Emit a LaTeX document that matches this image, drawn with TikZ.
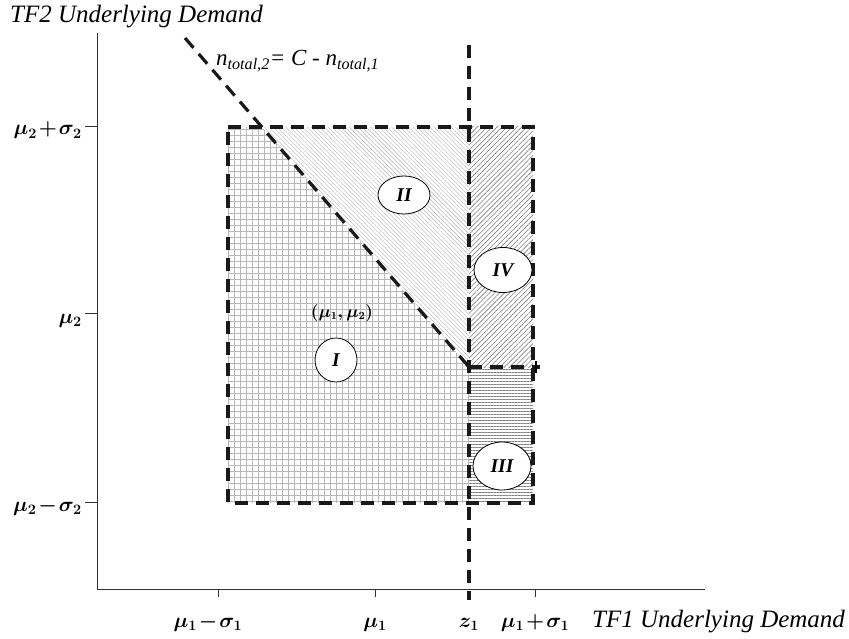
\documentclass[tikz,border=0pt]{standalone}
\usepackage{fontspec}
\setmainfont{Liberation Serif}
\usetikzlibrary{patterns.meta,shapes.geometric}
\newcommand\tightbin{\medmuskip=1.5mu\relax}
\tikzset{
  axisline/.style={draw=black!80, line width=1pt},
  tickmark/.style={draw=black!80, line width=0.8pt},
  bigdash/.style={draw=black!90, line width=3.2pt, dash pattern=on 13pt off 8pt},
  regionlabel/.style={ellipse, draw, line width=0.8pt, fill=white, inner sep=0pt,
    font=\fontsize{19.5}{22}\selectfont\bfseries\itshape},
  ticklabel/.style={inner sep=0pt, font=\fontsize{22}{26}\selectfont\boldmath},
  axistitle/.style={inner sep=0pt, font=\fontsize{25}{28}\selectfont\itshape},
}
\begin{document}
\begin{tikzpicture}[x=1pt,y=-1pt]
\useasboundingbox (0,0) rectangle (849,639);
% coordinates
\coordinate (O) at (97,589);
\coordinate (Ytop) at (97,33);
\coordinate (Xend) at (705,589);
\coordinate (TL) at (228,127);
\coordinate (TR) at (533,127);
\coordinate (BR) at (533,503);
\coordinate (BL) at (228,503);
\coordinate (Dtop) at (185,38);
\coordinate (Dbox) at (262,127);
\coordinate (Dend) at (469,367);
\coordinate (Ztop) at (469,45);
\coordinate (Zbot) at (469,600);
\coordinate (Ztb) at (469,127);
\coordinate (Zbb) at (469,503);
\coordinate (Mr) at (533,367);
\coordinate (Mrx) at (540,367);
% region fills
\fill[pattern={Hatch[distance=6pt,line width=0.6pt]}, pattern color=black!28]
  (TL) -- (Dbox) -- (Dend) -- (Zbb) -- (BL) -- cycle;
\fill[pattern={Lines[angle=-45,distance=3pt,line width=0.4pt]}, pattern color=black!30]
  (Dbox) -- (Ztb) -- (Dend) -- cycle;
\fill[pattern={Lines[angle=45,distance=3.5pt,line width=0.6pt]}, pattern color=black!50]
  (Ztb) -- (TR) -- (Mr) -- (Dend) -- cycle;
\fill[pattern={Lines[angle=0,distance=3pt,line width=0.6pt]}, pattern color=black!50]
  (Dend) -- (Mr) -- (BR) -- (Zbb) -- cycle;
% axes
\draw[axisline] (Ytop) -- (O) -- (Xend);
% y ticks
\foreach \n/\y in {a/126,b/313,c/502} {
  \coordinate (yt\n) at (97,\y);
  \draw[tickmark] (yt\n) -- ++(-12,0);
}
% x ticks
\foreach \n/\x in {a/218,b/375,d/535} {
  \coordinate (xt\n) at (\x,589);
  \draw[tickmark] (xt\n) -- ++(0,8);
}
% dashed lines
\draw[bigdash] (TL) -- (TR) -- (BR) -- (BL) -- cycle;
\draw[bigdash] (Dtop) -- (Dend);
\draw[bigdash] (Ztop) -- (Zbot);
\draw[bigdash] (Dend) -- (Mrx);
\draw[line width=1.2pt] (536,361) -- (536,373);
% labels
\node[axistitle, anchor=west] (ytitle) at (10,17) {TF2 Underlying Demand};
\node[axistitle, anchor=base west] (xtitle) at (592,627) {TF1 Underlying Demand};
\node[anchor=base west, inner sep=0pt, font=\fontsize{23}{26}\selectfont\itshape] (eq) at (216,66)
  {n\textsubscript{total,2}= C - n\textsubscript{total,1}};
\node[ticklabel, anchor=base east] (ly1) at (82,135) {$\tightbin\mu_2+\sigma_2$};
\node[ticklabel, anchor=base east] (ly2) at (82,323) {$\mu_2$};
\node[ticklabel, anchor=base east] (ly3) at (82,511) {$\tightbin\mu_2-\sigma_2$};
\node[ticklabel, anchor=base] (lx1) at (208,627) {$\tightbin\mu_1-\sigma_1$};
\node[ticklabel, anchor=base] (lx2) at (375,627) {$\mu_1$};
\node[ticklabel, anchor=base] (lx3) at (469,627) {$z_1$};
\node[ticklabel, anchor=base] (lx4) at (535,627) {$\tightbin\mu_1+\sigma_1$};
\node[inner sep=0pt, font=\fontsize{16}{18}\selectfont\boldmath] (mu) at (342,313) {$(\mu_1,\mu_2)$};
% region labels
\node[regionlabel, minimum width=42pt, minimum height=44pt] (rI) at (336,360) {I};
\node[regionlabel, minimum width=52pt, minimum height=38pt] (rII) at (404,195) {II};
\node[regionlabel, minimum width=58pt, minimum height=48pt] (rIII) at (502,466) {III};
\node[regionlabel, minimum width=58pt, minimum height=45pt] (rIV) at (503,270) {IV};
\end{tikzpicture}
\end{document}
